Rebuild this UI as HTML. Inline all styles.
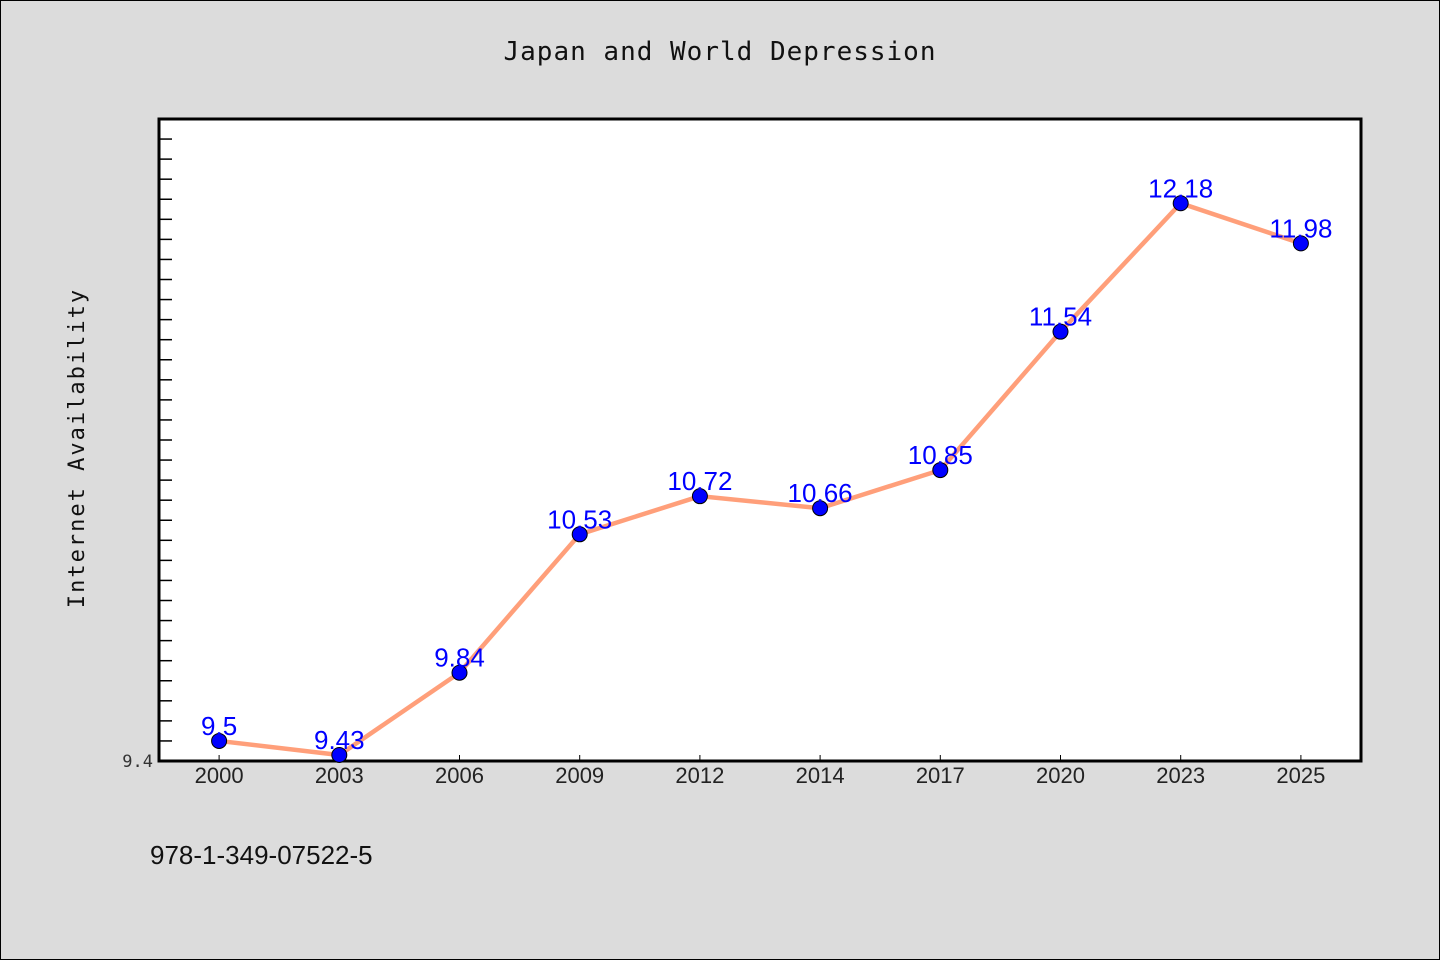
<!DOCTYPE html>
<html><head><meta charset="utf-8"><style>
body{margin:0;background:#dcdcdc;}
svg{display:block;font-family:"Liberation Sans","WenQuanYi Zen Hei",sans-serif;}
</style></head><body>
<svg id="chart" width="1440" height="960">
<rect x="0.5" y="0.5" width="1439" height="959" fill="#dcdcdc" stroke="#000"/>
<text x="720" y="60" text-anchor="middle" font-size="26" font-family="'WenQuanYi Zen Hei',monospace" letter-spacing="1" fill="#111">Japan and World Depression</text>
<rect x="159" y="119" width="1202" height="642" fill="#fff" stroke="#000" stroke-width="3"/>
<text transform="translate(84,448) rotate(-90)" text-anchor="middle" font-size="22" font-family="'WenQuanYi Zen Hei',monospace" letter-spacing="2" fill="#111">Internet Availability</text>
<text x="150" y="864" font-size="26" fill="#111">978-1-349-07522-5</text>
<g id="ticks"></g><g id="marks"></g>
</svg>
<script>
const categories=["2000","2003","2006","2009","2012","2014","2017","2020","2023","2025"];
const values=[9.5,9.43,9.84,10.53,10.72,10.66,10.85,11.54,12.18,11.98];
const yMin=9.4,yMax=12.6;
const L=159,R=1361,T=119,B=761;
const ns="http://www.w3.org/2000/svg";
const band=(R-L)/categories.length;
const xs=i=>L+band*(i+0.5);
const ys=v=>B-(v-yMin)/(yMax-yMin)*(B-T);
function mk(tag,attrs,parent){const e=document.createElementNS(ns,tag);for(const k in attrs)e.setAttribute(k,attrs[k]);parent.appendChild(e);return e;}
const tg=document.getElementById('ticks'),mg=document.getElementById('marks');
for(let k=1;k<=15;k++){const v=yMin+k*0.2/2*2*0.5*2/2;}
for(let k=1;k<32;k++){const y=ys(yMin+k*0.1);
 const t=mk('line',{x1:L,x2:L+13,y1:y,y2:y,stroke:'#000','stroke-width':1.5},tg);
 
 }
const yl=mk('text',{x:153,y:767,'text-anchor':'end','font-size':17,fill:'#333','font-family':"'WenQuanYi Zen Hei',monospace"},tg);
yl.textContent=yMin.toFixed(1);


categories.forEach((c,i)=>{const x=xs(i);
 const t=mk('line',{x1:x,x2:x,y1:B-6,y2:B,stroke:'#000','stroke-width':1},tg);
 
 
 const l=mk('text',{x:x,y:783,'text-anchor':'middle','font-size':22,fill:'#222'},tg);
 l.textContent=c;
 
 });
const pl=mk('polyline',{points:values.map((v,i)=>xs(i)+','+ys(v)).join(' '),fill:'none',stroke:'#ff9f7a','stroke-width':4.5},mg);


values.forEach((v,i)=>{
 const c=mk('circle',{cx:xs(i),cy:ys(v),r:7.5,fill:'#0000ff',stroke:'#000','stroke-width':1},mg);
 
 
 const t=mk('text',{x:xs(i),y:ys(v)-6,'text-anchor':'middle','font-size':26,fill:'#0000ff'},mg);
 t.textContent=String(v);
 
 });
</script>
</body></html>
